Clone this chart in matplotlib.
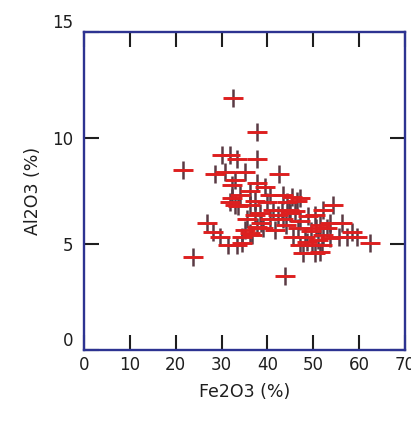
import matplotlib
matplotlib.use("Agg")
import matplotlib.pyplot as plt

# Fe2O3 vs Al2O3 (wt %) for each sample
fe2o3 = [
    32.4, 37.8, 37.7, 21.5, 30.0, 31.8, 33.3, 28.6, 30.7, 35.1,
    42.5, 32.9, 32.2, 37.7, 39.5, 36.2, 34.0, 32.2, 32.9, 31.8,
    33.6, 36.2, 40.6, 43.5, 45.3, 47.1, 37.3, 39.8, 44.2, 46.4,
    35.5, 37.3, 38.4, 41.3, 43.1, 44.6, 40.6, 43.5, 47.1, 48.9,
    50.4, 52.2, 54.4, 35.1, 36.6, 34.4, 36.2, 37.7, 39.1, 41.6,
    46.7, 50.7, 51.5, 53.6, 56.2, 45.6, 48.2, 52.2, 55.5, 53.6,
    51.1, 58.4, 57.3, 59.5, 62.4, 47.1, 49.7, 51.8, 47.8, 50.4,
    51.5, 26.8, 28.2, 29.7, 31.5, 33.3, 34.4, 23.8, 43.8,
    42.3, 45.0, 49.5, 48.6, 44.0, 38.6, 53.0, 46.0,
]
al2o3 = [
    11.9, 10.3, 9.0, 8.5, 9.2, 9.2, 9.0, 8.3, 8.4, 8.4,
    8.3, 8.0, 7.8, 7.9, 7.7, 7.5, 7.3, 7.15, 6.84, 7.0,
    6.8, 6.84, 7.3, 7.3, 7.2, 7.15, 7.05, 7.0, 7.0, 7.05,
    6.2, 6.37, 6.45, 6.6, 6.6, 6.6, 6.2, 6.2, 6.1, 6.3,
    6.37, 6.6, 6.84, 5.66, 5.42, 5.35, 5.5, 5.82, 5.74, 5.66,
    5.74, 5.74, 5.9, 6.0, 6.0, 5.35, 5.35, 5.42, 5.35, 5.27,
    5.2, 5.58, 5.35, 5.35, 5.05, 4.95, 4.95, 4.95, 4.56, 4.56,
    4.64, 6.0, 5.58, 5.35, 4.95, 4.95, 5.03, 4.4, 3.5,
    6.35, 6.45, 5.6, 5.1, 5.9, 6.0, 5.75, 6.55,
]

x_ticks = [0, 10, 20, 30, 40, 50, 60, 70]
y_ticks = [0, 5, 10, 15]

NAVY = "#2d3391"
INK = "#1e1e1e"

plt.rcParams["font.family"] = ["DejaVu Sans"]

fig = plt.figure(figsize=(4.11, 4.29), dpi=100)
ax = fig.add_axes([0.2044, 0.1841, 0.781, 0.7413])

# '+' markers: dark vertical stroke under a red horizontal stroke
ax.plot(fe2o3, al2o3, linestyle="none", marker="|", markersize=13,
        markeredgewidth=1.8, color="#5a3a44")
ax.plot(fe2o3, al2o3, linestyle="none", marker="_", markersize=14.5,
        markeredgewidth=2.1, color="#dd1f1f")

ax.set_xlim(0, 70)
ax.set_ylim(0, 15)
ax.set_xticks(x_ticks)
ax.set_yticks(y_ticks)
ax.set_xticklabels([str(v) for v in x_ticks])
ax.set_yticklabels([str(v) for v in y_ticks])

ax.tick_params(direction="in", length=11, width=1.5, top=True, right=True,
               labelsize=12, labelcolor=INK, color=INK)
ax.tick_params(axis="x", pad=4)
ax.tick_params(axis="y", pad=8)

# end labels sit above their ticks
for lbl in ax.get_yticklabels():
    if lbl.get_text() in ("0", "15"):
        lbl.set_verticalalignment("bottom")

# some tick marks are drawn in the frame colour
for tick, val in zip(ax.xaxis.get_major_ticks(), x_ticks):
    if val in (20, 50):
        tick.tick1line.set_color(NAVY)
        tick.tick2line.set_color(NAVY)
for tick, val in zip(ax.yaxis.get_major_ticks(), y_ticks):
    if val in (5, 10):
        tick.tick1line.set_color(NAVY)
        tick.tick2line.set_color(NAVY)

for spine in ax.spines.values():
    spine.set_color(NAVY)
    spine.set_linewidth(1.7)

ax.set_xlabel("Fe2O3 (%)", fontsize=12.5, color=INK)
ax.set_ylabel("Al2O3 (%)", fontsize=12.5, color=INK)
ax.xaxis.set_label_coords(0.5, -0.104)
ax.yaxis.set_label_coords(-0.131, 0.5)

fig.savefig("out.png", dpi=100)
